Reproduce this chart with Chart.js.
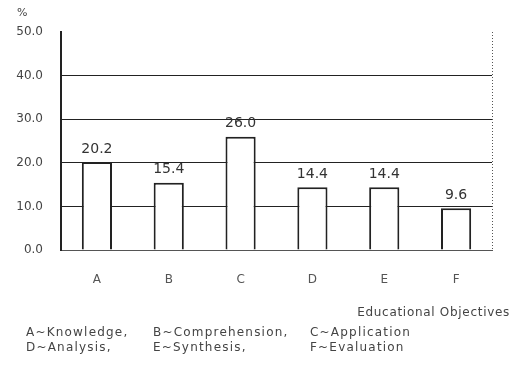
<!DOCTYPE html>
<html>
<head>
<meta charset="utf-8">
<script src="https://cdn.jsdelivr.net/npm/chart.js@4/dist/chart.umd.min.js"></script>
<style>
html,body{margin:0;padding:0;background:#fff;}
#wrap{width:512px;height:366px;position:relative;}
</style>
</head>
<body>
<div id="wrap"><canvas id="c" width="512" height="366"></canvas></div>
<script>
const categories = ["A","B","C","D","E","F"];
const values = [20.2, 15.4, 26.0, 14.4, 14.4, 9.6];
const valueLabels = ["20.2","15.4","26.0","14.4","14.4","9.6"];
const yTicks = [0,10,20,30,40,50];
const yUnit = "%";
const xTitle = "Educational Objectives";
const legendLine1 = ["A~Knowledge,","B~Comprehension,","C~Application"];
const legendLine2 = ["D~Analysis,","E~Synthesis,","F~Evaluation"];

const FONT = "'DejaVu Sans', sans-serif";

const decor = {
  id: 'decor',
  afterDatasetsDraw(chart){
    const ctx = chart.ctx;
    const ca = chart.chartArea;
    const meta = chart.getDatasetMeta(0);
    ctx.save();
    // value labels
    ctx.fillStyle = '#333';
    ctx.font = "14px " + FONT;
    ctx.textAlign = 'center';
    ctx.textBaseline = 'bottom';
    meta.data.forEach((bar,i)=>{
      ctx.fillText(valueLabels[i], bar.x, bar.y - 6);
    });
    // right dotted border
    ctx.strokeStyle = '#555';
    ctx.lineWidth = 1;
    ctx.setLineDash([1,2]);
    ctx.beginPath();
    ctx.moveTo(ca.right+0.5, ca.top);
    ctx.lineTo(ca.right+0.5, ca.bottom);
    ctx.stroke();
    ctx.setLineDash([]);
    // unit
    ctx.fillStyle = '#444';
    ctx.font = "11px " + FONT;
    ctx.textAlign = 'left';
    ctx.textBaseline = 'middle';
    ctx.fillText(yUnit, 17, 13);
    // x title
    ctx.font = "12px " + FONT;
    ctx.letterSpacing = "0.7px";
    ctx.textAlign = 'right';
    ctx.fillText(xTitle, 510, 313);
    // legend lines
    ctx.textAlign = 'left';
    ctx.font = "12px " + FONT;
    ctx.letterSpacing = "1.2px";
    const xs = [26, 153, 310];
    legendLine1.forEach((t,i)=>ctx.fillText(t, xs[i], 333));
    legendLine2.forEach((t,i)=>ctx.fillText(t, xs[i], 348));
    ctx.restore();
  }
};

new Chart(document.getElementById('c'), {
  type: 'bar',
  data: {
    labels: categories,
    datasets: [{
      data: values,
      backgroundColor: '#ffffff',
      borderColor: '#222',
      borderWidth: 2,
      borderSkipped: 'bottom',
      barPercentage: 0.84,
      categoryPercentage: 0.5
    }]
  },
  options: {
    responsive: false,
    animation: false,
    devicePixelRatio: 1,
    layout: { padding: { top: 32, right: 20, left: 0, bottom: 0 } },
    plugins: { legend: { display: false }, tooltip: { enabled: false } },
    scales: {
      x: {
        afterFit(scale){ scale.height = 116; },
        grid: { display: false, drawTicks: false },
        border: { display: true, color: '#555', width: 1, dash: [1,2] },
        ticks: { color: '#555', padding: 23, font: { family: FONT, size: 12 } }
      },
      y: {
        min: 0, max: 50,
        afterFit(scale){ scale.width = 61; },
        afterBuildTicks(scale){ scale.ticks = yTicks.map(v=>({value:v})); },
        grid: {
          drawTicks: false,
          color: ctx => (ctx.tick && (ctx.tick.value === 0 || ctx.tick.value === 50)) ? 'rgba(0,0,0,0)' : '#222',
          lineWidth: 1
        },
        border: { display: true, color: '#222', width: 2 },
        ticks: {
          color: '#444', padding: 18,
          font: { family: FONT, size: 12 },
          callback: v => Number(v).toFixed(1)
        }
      }
    }
  },
  plugins: [decor]
});
</script>
</body>
</html>
